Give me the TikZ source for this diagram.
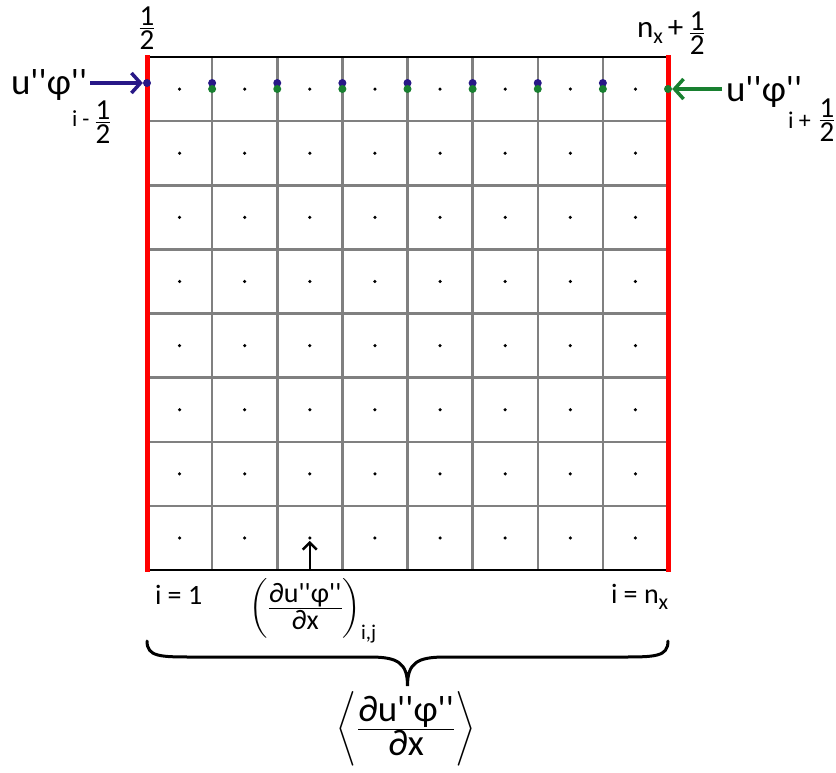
\documentclass[tikz,border=0pt]{standalone}
\usepackage{amsmath}
\usepackage{fontspec}
\newfontfamily\cfont{Carlito}
\usetikzlibrary{arrows.meta}
\definecolor{gridgray}{RGB}{128,128,128}
\definecolor{fluxblue}{RGB}{40,24,135}
\definecolor{fluxgreen}{RGB}{24,128,48}
\definecolor{edgered}{RGB}{255,0,0}
\newcommand\fr[2]{\ensuremath{\frac{\hbox{#1}}{\hbox{#2}}}}
\newcommand\fsz[1]{\fontsize{#1}{#1}\selectfont}
\newcommand\dq{''}
\begin{document}
\begin{tikzpicture}[x=1pt,y=-1pt,
  gridline/.style={draw=gridgray,line width=2.5pt},
  border/.style={draw=black,line width=2.5pt},
  redge/.style={draw=edgered,line width=5pt},
  cdot/.style={circle,fill=black,inner sep=0pt,minimum size=3.5pt},
  bdot/.style={circle,fill=fluxblue,inner sep=0pt,minimum size=8pt},
  gdot/.style={circle,fill=fluxgreen,inner sep=0pt,minimum size=8pt},
  txt/.style={inner sep=0pt,outer sep=0pt,font=\cfont},
  flux/.style={line width=3.5pt,-{Straight Barb[length=9pt,width=20pt,line width=3.5pt]}},
  pointer/.style={line width=2.5pt,-{Straight Barb[length=7pt,width=14pt,line width=2.5pt]}},
  brace/.style={line width=3pt,line cap=round}
]
\useasboundingbox (0,0) rectangle (836,772);
% grid
\foreach \i in {1,...,7}
  \draw[gridline] ({147+\i*65.125},57) -- ({147+\i*65.125},570);
\foreach \j in {1,...,7}
  \draw[gridline] (147,{57+\j*64.125}) -- (668,{57+\j*64.125});
\draw[border] (147,57) -- (668,57);
\draw[border] (147,570) -- (668,570);
\draw[redge] (147,55) -- (147,572);
\draw[redge] (668,55) -- (668,572);
% cell centre dots
\foreach \i in {0,...,7}
  \foreach \j in {0,...,7}
    \node[cdot] (c-\i-\j) at ({147+(\i+0.5)*65.125},{57+(\j+0.5)*64.125}) {};
% face dots
\foreach \i in {0,...,7}
  \node[bdot] (b\i) at ({147+\i*65.125},83) {};
\foreach \i in {1,...,8}
  \node[gdot] (g\i) at ({147+\i*65.125},89) {};
% top labels
\node[txt,font=\cfont\fsz{29}] (half) at (147,28) {\fr{1}{2}};
\node[txt,anchor=base west] (nx) at (637,37)
  {\fsz{31}n\raisebox{-6pt}{\fsz{22}x}\,+\,\raisebox{-3pt}{\fsz{29}\fr{1}{2}}};
% left flux label
\node[txt,anchor=base west,font=\cfont\fsz{37}] (lphi) at (11,94) {u\dq φ\dq};
\node[txt,anchor=base west,font=\cfont\fsz{23}] (lsub) at (72,126) {i -};
\node[txt,font=\cfont\fsz{29}] (lfrac) at (103,122) {\fr{1}{2}};
\draw[flux,fluxblue] ([xshift=3pt]lphi.east |- b0) -- (b0.west);
% right flux label
\node[txt,anchor=base west,font=\cfont\fsz{37}] (rphi) at (726,101) {u\dq φ\dq};
\node[txt,anchor=base west,font=\cfont\fsz{24}] (rsub) at (788,128) {i +};
\node[txt,font=\cfont\fsz{29}] (rfrac) at (827,120) {\fr{1}{2}};
\draw[flux,fluxgreen] ([xshift=-4pt]rphi.west |- g8) -- (g8.east);
% bottom labels
\node[txt,anchor=base west,font=\cfont\fsz{28}] (ione) at (155,604) {i = 1};
\node[txt,anchor=base west,font=\cfont\fsz{28}] (inx) at (611,603) {i = n\raisebox{-6pt}{\fsz{22}x}};
\node[txt,font=\cfont\fsz{28}] (dcell) at (313,611)
  {$\left(\frac{\hbox{∂u\dq φ\dq}}{\hbox{∂x}}\right)_{\hbox{\fsz{21}i,j}}$};
\coordinate (foot) at (c-2-7 |- 0,570);
\draw[pointer] (foot) -- ([yshift=-1pt]c-2-7.south);
% brace
\coordinate (bl) at (147,641);
\coordinate (br) at (668,641);
\coordinate (btip) at (407.5,686);
\draw[brace] (bl) .. controls (147,657) and (160,657) .. (195,657)
  -- (370,657) .. controls (398,657) and (407.5,663) .. (btip)
  .. controls (407.5,663) and (417,657) .. (445,657)
  -- (620,657) .. controls (655,657) and (668,657) .. (br);
\node[txt,font=\cfont\fsz{37}] (mean) at (406,729)
  {$\left\langle\vcenter{\hbox{\rule{0pt}{84pt}}}\frac{\hbox{∂u\dq φ\dq}}{\hbox{∂x}}\right\rangle$};
\end{tikzpicture}
\end{document}
